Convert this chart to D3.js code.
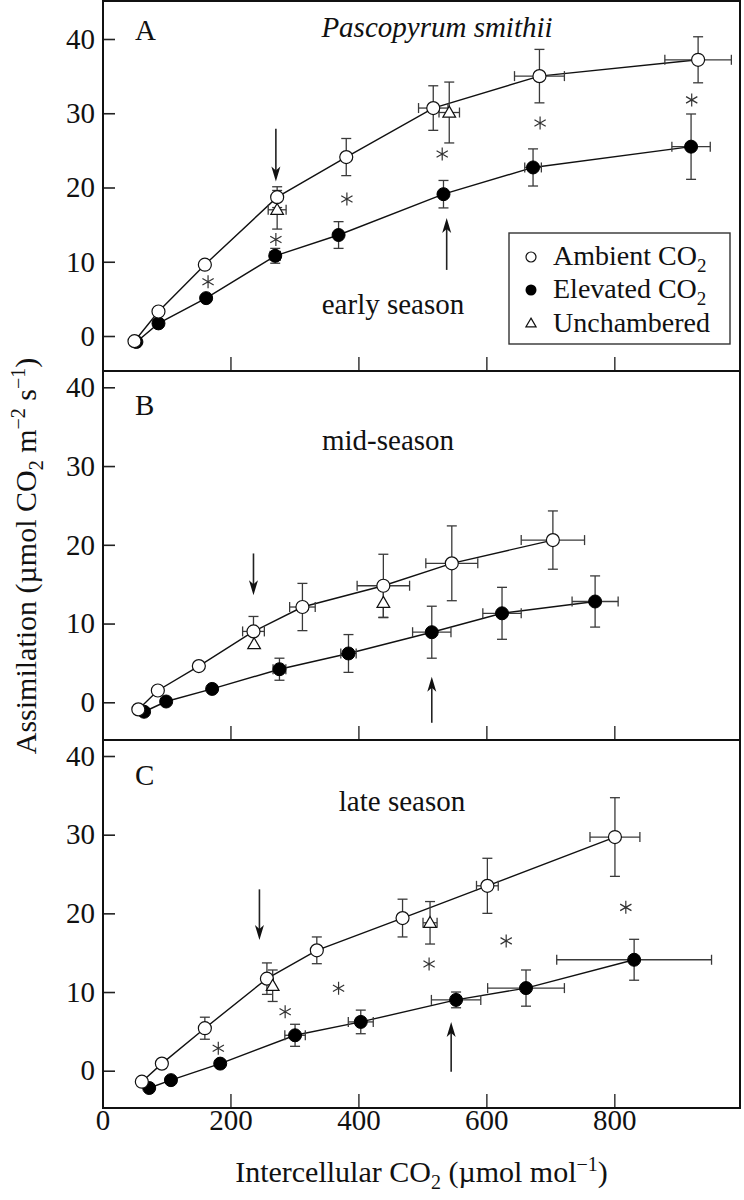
<!DOCTYPE html>
<html><head><meta charset="utf-8">
<script src="https://cdn.jsdelivr.net/npm/d3@7"></script>
<style>body{margin:0;background:#fff}svg{display:block}text{font-family:"Liberation Serif","Times New Roman",serif;fill:#111}</style>
</head><body>
<svg id="c" width="744" height="1200"></svg>
<script>
// ---------- DATA ----------
const yTicks = [0, 10, 20, 30, 40];
const xTicks = [200, 400, 600, 800];
const xTickLabels = [0, 200, 400, 600, 800];
const panelLetters = ["A", "B", "C"];
const seasonLabels = ["early season", "mid-season", "late season"];
const species = "Pascopyrum smithii";
const legendLabels = ["Ambient CO", "Elevated CO", "Unchambered"];

// Panel A (early season)
const ambA_x = [50, 87.5, 160, 273, 381, 517, 683, 931];
const ambA_y = [-0.7, 3.3, 9.6, 18.7, 24.1, 30.7, 35.0, 37.2];
const ambA_ye = [0, 0, 0, 1.4, 2.5, 3.0, 3.6, 3.1];
const ambA_xe = [0, 0, 0, 0, 0, 23, 39, 52];
const eleA_x = [53, 87.5, 162, 270, 369, 533, 673, 920];
const eleA_y = [-0.8, 1.7, 5.1, 10.8, 13.6, 19.1, 22.7, 25.5];
const eleA_ye = [0, 0, 0, 1.0, 1.8, 1.85, 2.5, 4.4];
const eleA_xe = [0, 0, 0, 8, 0, 0, 13, 30];
const unA_x = [273, 542];
const unA_y = [17.0, 30.1];
const unA_ye = [2.6, 4.1];
const unA_xe = [14, 16];
const starA = [[165, 7.3], [271, 13.0], [382, 18.45], [531, 24.5], [684, 28.7], [921, 31.8]];
const arrowA = [[271, 27.9, 20.8], [538, 8.9, 15.9]];

// Panel B (mid-season)
const ambB_x = [56, 86.5, 150.6, 236, 312.5, 439, 546, 704];
const ambB_y = [-0.9, 1.5, 4.6, 9.0, 12.1, 14.8, 17.65, 20.6];
const ambB_ye = [0, 0, 0, 1.9, 3.0, 4.0, 4.75, 3.7];
const ambB_xe = [0, 0, 0, 17, 20, 41, 40.6, 49.5];
const eleB_x = [65, 99.5, 171.4, 276.6, 384.5, 514.7, 624.5, 770];
const eleB_y = [-1.2, 0.1, 1.7, 4.2, 6.2, 8.9, 11.3, 12.8];
const eleB_ye = [0, 0, 0, 1.4, 2.4, 3.3, 3.3, 3.25];
const eleB_xe = [0, 0, 0, 10, 12, 30, 30, 36];
const unB_x = [237, 439];
const unB_y = [7.4, 12.65];
const unB_ye = [0, 1.9];
const unB_xe = [0, 0];
const starB = [];
const arrowB = [[236, 18.9, 13.6], [514.7, -2.6, 3.25]];

// Panel C (late season)
const ambC_x = [61.5, 92.8, 160, 257, 335, 469, 601.6, 801];
const ambC_y = [-1.4, 0.9, 5.4, 11.7, 15.3, 19.4, 23.5, 29.7];
const ambC_ye = [0, 0, 1.4, 2.0, 1.7, 2.4, 3.5, 5.0];
const ambC_xe = [0, 0, 0, 0, 0, 0, 17, 39];
const eleC_x = [73, 107, 184, 301, 403.7, 552.7, 662, 831];
const eleC_y = [-2.2, -1.2, 0.9, 4.5, 6.2, 9.0, 10.5, 14.1];
const eleC_ye = [0, 0, 0, 1.4, 1.5, 1.0, 2.3, 2.6];
const eleC_xe = [0, 0, 0, 16, 19.5, 38.6, 60, 121];
const unC_x = [266, 512];
const unC_y = [10.8, 18.8];
const unC_ye = [2.0, 2.7];
const unC_xe = [0, 11];
const starC = [[181, 2.85], [285.5, 7.5], [369, 10.47], [510.5, 13.56], [631, 16.5], [818, 20.76]];
const arrowC = [[245.3, 23.05, 16.6], [545, -0.13, 6.2]];

// ---------- LAYOUT ----------
const svg = d3.select("#c");
const FS = 29;
const TFS = 30;
const left = 103, right = 740;
const x = d3.scaleLinear().domain([0, 800]).range([102.5, 614.3]);

const panels = [
  {top: 1, bottom: 371, y: d3.scaleLinear().domain([0, 40]).range([336, 39]),
   amb: [ambA_x, ambA_y, ambA_ye, ambA_xe], ele: [eleA_x, eleA_y, eleA_ye, eleA_xe], un: [unA_x, unA_y, unA_ye, unA_xe],
   stars: starA, arrows: arrowA, label: {x: 135, y: 40}, season: {x: 393, y: 314}},
  {top: 371, bottom: 740, y: d3.scaleLinear().domain([0, 40]).range([702.3, 387.3]),
   amb: [ambB_x, ambB_y, ambB_ye, ambB_xe], ele: [eleB_x, eleB_y, eleB_ye, eleB_xe], un: [unB_x, unB_y, unB_ye, unB_xe],
   stars: starB, arrows: arrowB, label: {x: 135, y: 415}, season: {x: 388, y: 450}},
  {top: 740, bottom: 1108, y: d3.scaleLinear().domain([0, 40]).range([1070.7, 756]),
   amb: [ambC_x, ambC_y, ambC_ye, ambC_xe], ele: [eleC_x, eleC_y, eleC_ye, eleC_xe], un: [unC_x, unC_y, unC_ye, unC_xe],
   stars: starC, arrows: arrowC, label: {x: 135, y: 785}, season: {x: 402, y: 811}}
];

const toPts = a => a[0].map((v, i) => ({x: v, y: a[1][i], ye: a[2][i], xe: a[3][i]}));
const EB = "#3a3a3a";

function starPath(r) {
  const p = d3.path();
  for (let k = 0; k < 3; k++) {
    const a = Math.PI / 2 + k * Math.PI / 3;
    p.moveTo(Math.cos(a) * r, Math.sin(a) * r);
    p.lineTo(-Math.cos(a) * r, -Math.sin(a) * r);
  }
  return p.toString();
}
const triSym = d3.symbol().type(d3.symbolTriangle);

panels.forEach((P, pi) => {
  const y = P.y;
  const g = svg.append("g");

  // axes (inward ticks)
  const ay = g.append("g").attr("transform", `translate(${left},0)`)
    .call(d3.axisLeft(y).tickValues(yTicks).tickSize(-12).tickPadding(8).tickFormat(d3.format("d")));
  ay.select(".domain").remove();
  ay.selectAll("line").attr("stroke", "#222").attr("stroke-width", 1.6);
  ay.selectAll("text").attr("font-size", FS).attr("font-family", "Liberation Serif").attr("fill", "#111");

  const ax = g.append("g").attr("transform", `translate(0,${P.bottom})`)
    .call(d3.axisBottom(x).tickValues(pi === 2 ? xTickLabels : xTicks).tickSize(-14).tickPadding(1)
      .tickFormat(pi === 2 ? d3.format("d") : () => ""));
  ax.select(".domain").remove();
  ax.selectAll("line").attr("stroke", "#444").attr("stroke-width", 1.6);
  ax.selectAll("text").attr("font-size", FS).attr("font-family", "Liberation Serif").attr("fill", "#111");

  // lines
  const line = d3.line().x(d => x(d.x)).y(d => y(d.y));
  const amb = toPts(P.amb), ele = toPts(P.ele), un = toPts(P.un);
  [amb, ele].forEach(s => g.append("path").datum(s).attr("d", line)
    .attr("fill", "none").attr("stroke", "#111").attr("stroke-width", 1.4));

  // error bars
  const drawErr = (s) => {
    s.forEach(d => {
      if (d.ye > 0) {
        const y0 = y(d.y - d.ye), y1 = y(d.y + d.ye), cx = x(d.x);
        g.append("line").attr("x1", cx).attr("x2", cx).attr("y1", y0).attr("y2", y1).attr("stroke", EB).attr("stroke-width", 1.3);
        [y0, y1].forEach(yy => g.append("line").attr("x1", cx - 5).attr("x2", cx + 5).attr("y1", yy).attr("y2", yy).attr("stroke", EB).attr("stroke-width", 1.3));
      }
      if (d.xe > 0) {
        const x0 = x(d.x - d.xe), x1 = x(d.x + d.xe), cy = y(d.y);
        g.append("line").attr("x1", x0).attr("x2", x1).attr("y1", cy).attr("y2", cy).attr("stroke", EB).attr("stroke-width", 1.3);
        [x0, x1].forEach(xx => g.append("line").attr("x1", xx).attr("x2", xx).attr("y1", cy - 5).attr("y2", cy + 5).attr("stroke", EB).attr("stroke-width", 1.3));
      }
    });
  };
  drawErr(amb); drawErr(ele); drawErr(un);

  // markers
  g.selectAll(null).data(ele).join("circle").attr("cx", d => x(d.x)).attr("cy", d => y(d.y)).attr("r", 6.5)
    .attr("fill", "#000").attr("stroke", "#000").attr("stroke-width", 1);
  g.selectAll(null).data(amb).join("circle").attr("cx", d => x(d.x)).attr("cy", d => y(d.y)).attr("r", 6.5)
    .attr("fill", "#fff").attr("stroke", "#111").attr("stroke-width", 1.2);
  g.selectAll(null).data(un).join("path").attr("d", triSym.size(70))
    .attr("transform", d => `translate(${x(d.x)},${y(d.y) + 1})`)
    .attr("fill", "#fff").attr("stroke", "#111").attr("stroke-width", 1.2);

  // asterisks
  g.selectAll(null).data(P.stars).join("path").attr("d", starPath(6.5))
    .attr("transform", d => `translate(${x(d[0])},${y(d[1])})`)
    .attr("stroke", "#333").attr("stroke-width", 1.2).attr("fill", "none");

  // arrows
  P.arrows.forEach(a => {
    const ax0 = x(a[0]), ys = y(a[1]), ye = y(a[2]);
    const dir = ye > ys ? 1 : -1;
    g.append("line").attr("x1", ax0).attr("x2", ax0).attr("y1", ys).attr("y2", ye - dir * 6)
      .attr("stroke", "#222").attr("stroke-width", 1.6);
    g.append("path").attr("d", `M${ax0},${ye} L${ax0 - 4.5},${ye - dir * 15} L${ax0},${ye - dir * 11} L${ax0 + 4.5},${ye - dir * 15} Z`)
      .attr("fill", "#111");
  });

  // panel frame
  g.append("rect").attr("x", left).attr("y", P.top).attr("width", right - left).attr("height", P.bottom - P.top)
    .attr("fill", "none").attr("stroke", "#111").attr("stroke-width", 2);

  // labels
  g.append("text").attr("x", P.label.x).attr("y", P.label.y).attr("font-size", FS).text(panelLetters[pi]);
  g.append("text").attr("x", P.season.x).attr("y", P.season.y).attr("font-size", FS).attr("text-anchor", "middle").text(seasonLabels[pi]);
});

// species title
svg.append("text").attr("x", 437).attr("y", 37).attr("font-size", FS).attr("font-style", "italic")
  .attr("text-anchor", "middle").text(species);

// legend
const lg = svg.append("g");
lg.append("rect").attr("x", 509).attr("y", 233).attr("width", 221).attr("height", 111)
  .attr("fill", "#fff").attr("stroke", "#333").attr("stroke-width", 1.4);
const lgY = [265, 298, 332];
legendLabels.forEach((t, i) => {
  const tx = lg.append("text").attr("x", 553).attr("y", lgY[i]).attr("font-size", 28);
  tx.append("tspan").text(t);
  if (i < 2) tx.append("tspan").attr("font-size", 19).attr("dy", 7).text("2");
});
lg.append("circle").attr("cx", 531).attr("cy", 257).attr("r", 5).attr("fill", "#fff").attr("stroke", "#111").attr("stroke-width", 1.2);
lg.append("circle").attr("cx", 531).attr("cy", 290).attr("r", 5.5).attr("fill", "#000");
lg.append("path").attr("d", triSym.size(45)).attr("transform", "translate(531,324)")
  .attr("fill", "#fff").attr("stroke", "#111").attr("stroke-width", 1.2);

// x axis title
const xt = svg.append("text").attr("x", 421.5).attr("y", 1182).attr("font-size", TFS).attr("text-anchor", "middle");
xt.append("tspan").text("Intercellular CO");
xt.append("tspan").attr("font-size", 20).attr("dy", 7).text("2");
xt.append("tspan").attr("dy", -7).text(" (µmol mol");
xt.append("tspan").attr("font-size", 20).attr("dy", -11).text("−1");
xt.append("tspan").attr("dy", 11).text(")");

// y axis title
const yt = svg.append("text").attr("transform", "translate(36,556) rotate(-90)").attr("font-size", TFS).attr("text-anchor", "middle");
yt.append("tspan").text("Assimilation (µmol CO");
yt.append("tspan").attr("font-size", 20).attr("dy", 7).text("2");
yt.append("tspan").attr("dy", -7).text(" m");
yt.append("tspan").attr("font-size", 20).attr("dy", -11).text("−2");
yt.append("tspan").attr("dy", 11).text(" s");
yt.append("tspan").attr("font-size", 20).attr("dy", -11).text("−1");
yt.append("tspan").attr("dy", 11).text(")");
</script>
</body></html>
